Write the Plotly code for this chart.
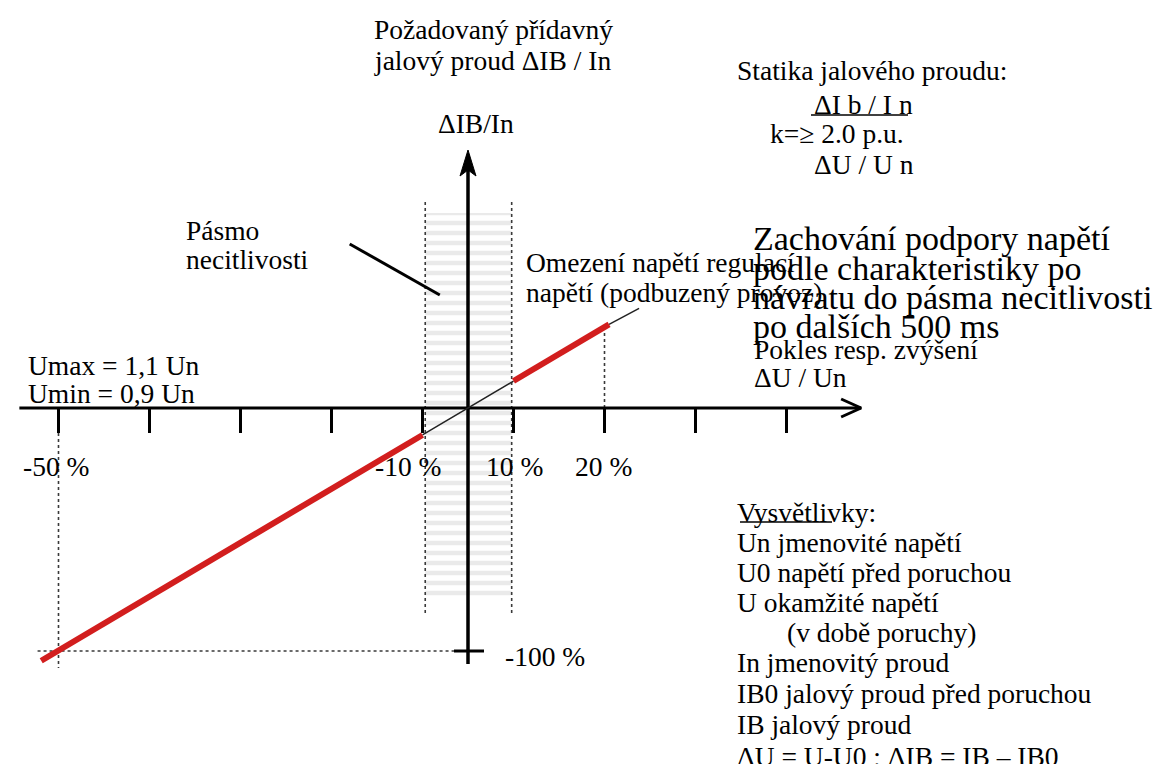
import plotly.graph_objects as go

# ---------------- data (schematic units) ----------------
# x: tick intervals from the origin, y: percent of dIB/In
tick_x = [-4.5, -3.5, -2.5, -1.5, -0.5, 0.5, 1.5, 2.5, 3.5]
tick_label_x = [-4.5, -0.5, 0.5, 1.5]
tick_labels = ["-50 %", "-10 %", "10 %", "20 %"]
y_label_val = -100
y_label_text = "-100 %"

# characteristic dIB/In vs dU/Un (red = active part, thin black = dead band / beyond)
red_x = [-4.69, -0.5, None, 0.5, 1.55]
red_y = [-104.0, -11.1, None, 11.1, 34.4]
thin_x = [-0.5, 0.5, None, 1.55, 1.88]
thin_y = [-11.1, 11.1, None, 34.4, 41.0]

# dead band
band_x = [-0.47, 0.48]
band_dot_y = [-84.4, 85.2]
band_fill_y = [-77.4, 80.2]

# axis extents
h_axis_x = [-4.93, 4.32]
v_axis_y = [-105.3, 104.0]
tick_len = -10.3

# guide lines
guide_h_x = [-4.73, -0.15]
guide_v50_y = [-10.3, -107.0]
guide_v20_y = [0.0, 31.0]

# pointer of "Pásmo necitlivosti"
pointer_x = [-1.30, -0.31]
pointer_y = [67.5, 46.5]

# ---------------- geometry helpers ----------------
W, H = 1169, 764
OX, OY = 460.0, 400.0     # origin in px
UX, UY = 91.0, 2.43       # px per unit


def dx(px):
    return (px - OX) / UX


def dy(py):
    return (OY - py) / UY


def pxp(px):
    return px / W


def pyp(py):
    return 1 - py / H


FONT = dict(family="Liberation Serif", size=27.5, color="black")
FONT_BIG = dict(family="Liberation Serif", size=34, color="black")

fig = go.Figure()

# dead band hatching
fig.add_trace(go.Scatter(
    x=[band_x[0], band_x[1], band_x[1], band_x[0], band_x[0]],
    y=[band_fill_y[0], band_fill_y[0], band_fill_y[1], band_fill_y[1], band_fill_y[0]],
    mode="lines", line=dict(width=0), fill="toself",
    fillcolor="white",
    fillpattern=dict(shape="-", size=10, solidity=0.45, fgcolor="#d6d6d6", bgcolor="white"),
    hoverinfo="skip", showlegend=False))

# dotted guide lines
dot = dict(color="#3a3a3a", width=1.6, dash="dot")
fig.add_trace(go.Scatter(
    x=[band_x[0], band_x[0], None, band_x[1], band_x[1]],
    y=[band_dot_y[0], band_dot_y[1], None, band_dot_y[0], band_dot_y[1]],
    mode="lines", line=dot, hoverinfo="skip", showlegend=False))
fig.add_trace(go.Scatter(
    x=[guide_h_x[0], guide_h_x[1], None, tick_label_x[0], tick_label_x[0], None,
       tick_label_x[3], tick_label_x[3]],
    y=[y_label_val, y_label_val, None, guide_v50_y[0], guide_v50_y[1], None,
       guide_v20_y[0], guide_v20_y[1]],
    mode="lines", line=dot, hoverinfo="skip", showlegend=False))

# axes
fig.add_trace(go.Scatter(x=h_axis_x, y=[0, 0], mode="lines",
                         line=dict(color="black", width=3), hoverinfo="skip", showlegend=False))
fig.add_trace(go.Scatter(x=[0, 0], y=v_axis_y, mode="lines",
                         line=dict(color="black", width=3.5), hoverinfo="skip", showlegend=False))
# ticks
tx, ty = [], []
for t in tick_x:
    tx += [t, t, None]
    ty += [0, tick_len, None]
tx += [dx(446), dx(476)]
ty += [y_label_val, y_label_val]
fig.add_trace(go.Scatter(x=tx, y=ty, mode="lines",
                         line=dict(color="black", width=3), hoverinfo="skip", showlegend=False))

# arrowheads
tip_x = h_axis_x[1]
fig.add_trace(go.Scatter(
    x=[tip_x - 20 / UX, tip_x, tip_x - 20 / UX],
    y=[9 / UY, 0, -9 / UY], mode="lines",
    line=dict(color="black", width=3), hoverinfo="skip", showlegend=False))
tip_y = dy(142)
fig.add_trace(go.Scatter(
    x=[0, -8 / UX, 0, 8 / UX, 0],
    y=[tip_y, tip_y - 26 / UY, tip_y - 20 / UY, tip_y - 26 / UY, tip_y],
    mode="lines", fill="toself", fillcolor="black",
    line=dict(color="black", width=1), hoverinfo="skip", showlegend=False))

# pointer line
fig.add_trace(go.Scatter(x=pointer_x, y=pointer_y, mode="lines",
                         line=dict(color="black", width=3), hoverinfo="skip", showlegend=False))

# characteristic
fig.add_trace(go.Scatter(x=thin_x, y=thin_y, mode="lines",
                         line=dict(color="#222222", width=1.5), hoverinfo="skip", showlegend=False))
fig.add_trace(go.Scatter(x=red_x, y=red_y, mode="lines",
                         line=dict(color="#d21e1e", width=6), hoverinfo="skip", showlegend=False))

# ---------------- texts ----------------
ann = []


def text(s, px, py, anchor="left", font=FONT):
    ann.append(dict(text=s, x=pxp(px), y=pyp(py), xref="paper", yref="paper",
                    xanchor=anchor, yanchor="middle", showarrow=False, font=font))


text("Požadovaný přídavný", 364, 22)
text("jalový proud ΔIB / In", 364, 52)
text("ΔIB/In", 468, 115, "center")

text("Statika jalového proudu:", 727, 62)
text("ΔI b / I n", 804, 96)
text("k=≥ 2.0 p.u.", 760, 125)
text("ΔU / U n", 804, 157)

text("Pásmo", 176, 222)
text("necitlivosti", 176, 252)

text("Omezení napětí regulací", 516, 255)
text("napětí (podbuzený provoz)", 516, 284)

text("Zachování podpory napětí", 743, 230, font=FONT_BIG)
text("podle charakteristiky po", 743, 260, font=FONT_BIG)
text("návratu do pásma necitlivosti", 743, 289, font=FONT_BIG)
text("po dalších 500 ms", 743, 318, font=FONT_BIG)
text("Pokles resp. zvýšení", 744, 341)
text("ΔU / Un", 744, 370)

text("Umax = 1,1 Un", 18, 357)
text("Umin = 0,9 Un", 18, 385)

label_px = [13, 365, 476, 565]
for lx, s in zip(label_px, tick_labels):
    text(s, lx, 458)
text(y_label_text, 495, 648)

legend_lines = ["Vysvětlivky:", "Un jmenovité napětí", "U0 napětí před poruchou",
                "U okamžité napětí", "(v době poruchy)", "In jmenovitý proud",
                "IB0 jalový proud před poruchou", "IB jalový proud",
                "ΔU = U-U0 ; ΔIB = IB – IB0"]
leg_y = [504, 534, 564, 594, 624, 654, 685, 716, 748]
for s, ly in zip(legend_lines, leg_y):
    text(s, 777 if s.startswith("(") else 727, ly)

shapes = [
    dict(type="line", xref="paper", yref="paper", x0=pxp(803), x1=pxp(900),
         y0=pyp(107), y1=pyp(107), line=dict(color="black", width=1.5)),
    dict(type="line", xref="paper", yref="paper", x0=pxp(732), x1=pxp(824),
         y0=pyp(leg_y[0] + 10), y1=pyp(leg_y[0] + 10), line=dict(color="black", width=1.5)),
]

fig.update_layout(
    width=W, height=H, margin=dict(l=0, r=0, t=0, b=0),
    paper_bgcolor="white", plot_bgcolor="white",
    xaxis=dict(range=[dx(0), dx(W)], visible=False, fixedrange=True),
    yaxis=dict(range=[dy(H), dy(0)], visible=False, fixedrange=True),
    annotations=ann, shapes=shapes, showlegend=False,
)

fig.write_html("out.html")
